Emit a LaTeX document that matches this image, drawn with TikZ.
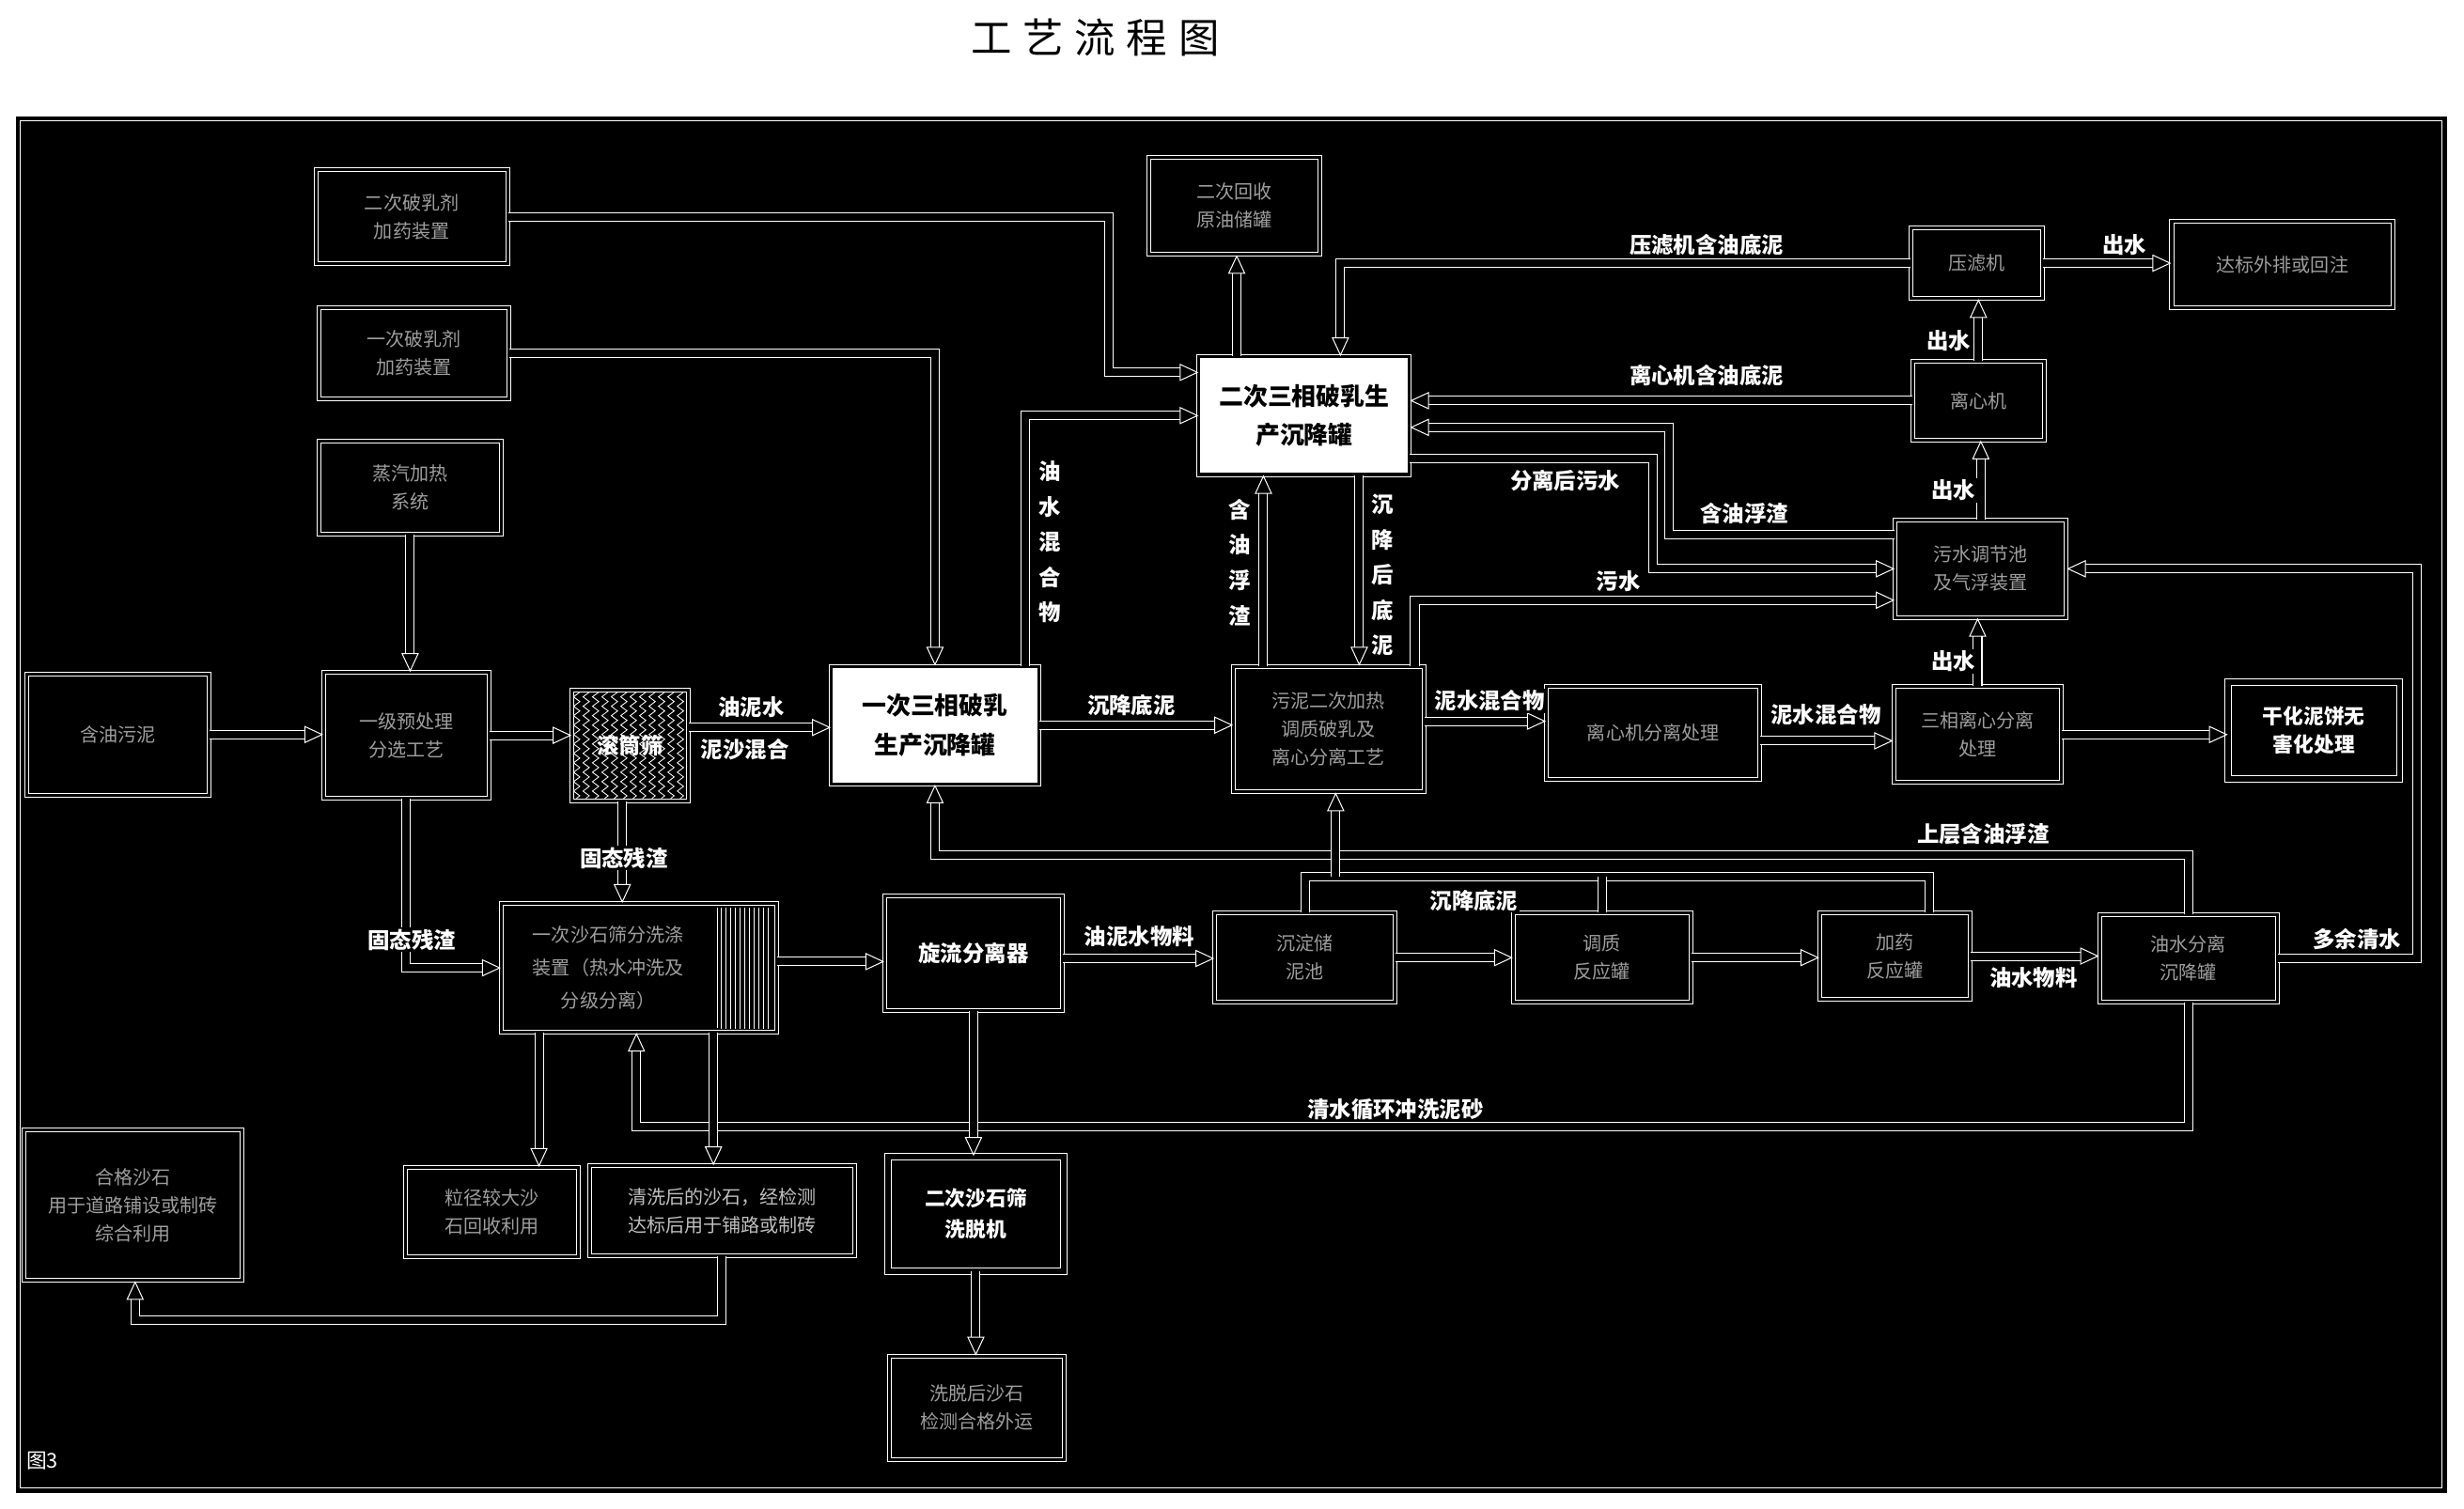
\documentclass[tikz,border=0pt]{standalone}
\usepackage{fontspec}
\newfontfamily\cjk{Noto Sans CJK SC}
\usetikzlibrary{arrows.meta,patterns.meta,decorations.pathmorphing,calc}
\begin{document}
\begin{tikzpicture}[x=1pt,y=-1pt,
  box/.style={draw=white, line width=0.6pt, double=black, double distance=1.8pt, fill=black,
    text=white!62!black, align=center, inner sep=2pt, font=\cjk\fontsize{12}{18}\selectfont},
  thickbox/.style={box, double distance=3.5pt},
  tank/.style={draw=white, line width=0.6pt, double=black, double distance=1.8pt, fill=white,
    text=black, align=center, font=\cjk\bfseries\fontsize{15.5}{25}\selectfont},
  lab/.style={text=white, fill=black, inner sep=1pt, font=\cjk\bfseries\fontsize{14}{16}\selectfont},
  vlab/.style={lab, align=center, font=\cjk\bfseries\fontsize{14}{22.5}\selectfont},
  pipe/.style={draw=white, line width=0.6pt, double=black, double distance=4.8pt},
  arr/.style={-{Triangle[open, length=12pt, width=11pt]}}
]
\useasboundingbox (0,0) rectangle (1568,960);
\fill[white] (0,0) rectangle (1568,960);
\node[font=\cjk\fontsize{26}{30}\selectfont] (title) at (697,24) {工\hspace{7pt}艺\hspace{7pt}流\hspace{7pt}程\hspace{7pt}图};
\fill[black] (10,74) rectangle (1557,950);
\draw[white, line width=0.8pt] (13,77) rectangle (1554,947);

% ---- boxes
\node[box, minimum width=116pt, minimum height=77pt] (L) at (75,467.5) {含油污泥};
\node[box, minimum width=122pt, minimum height=60pt] (A1) at (262,138) {二次破乳剂\\加药装置};
\node[box, minimum width=121pt, minimum height=58pt] (A2) at (263.5,225) {一次破乳剂\\加药装置};
\node[box, minimum width=116pt, minimum height=59pt] (A3) at (261,310.5) {蒸汽加热\\系统};
\node[box, minimum width=105pt, minimum height=80pt] (B) at (258.5,468) {一级预处理\\分选工艺};
\node[box, minimum width=74pt, minimum height=71pt, text=white,
  font=\cjk\bfseries\fontsize{14}{16}\selectfont,
  path picture={\foreach \i in {0,...,11} \draw[white, line width=0.5pt, decorate,
    decoration={zigzag, segment length=6pt, amplitude=2pt}]
    ($(path picture bounding box.north west)+(3+\i*6,0)$) --
    ($(path picture bounding box.south west)+(3+\i*6,0)$);}] (H) at (401,474.5) {滚筒筛};
\node[tank, minimum width=132pt, minimum height=75pt] (T1) at (595,461.5) {一次三相破乳\\生产沉降罐};
\node[tank, minimum width=134pt, minimum height=75pt] (T2) at (830,264.5) {二次三相破乳生\\产沉降罐};
\node[box, minimum width=109pt, minimum height=62pt] (G) at (785.5,131) {二次回收\\原油储罐};
\node[box, minimum width=121pt, minimum height=80pt] (M) at (845.5,464) {污泥二次加热\\调质破乳及\\离心分离工艺};
\node[box, minimum width=136pt, minimum height=59pt] (N) at (1052,466.5) {离心机分离处理};
\node[box, minimum width=107pt, minimum height=61pt] (P) at (1258.5,467.5) {三相离心分离\\处理};
\node[thickbox, minimum width=109pt, minimum height=62pt, text=white, font=\cjk\bfseries\fontsize{13}{18}\selectfont] (Q) at (1472.5,465) {干化泥饼无\\害化处理};
\node[box, minimum width=84pt, minimum height=45pt] (K1) at (1258,167.5) {压滤机};
\node[box, minimum width=141pt, minimum height=55pt] (K0) at (1452.5,168.5) {达标外排或回注};
\node[box, minimum width=84pt, minimum height=50pt] (K2) at (1259,255) {离心机};
\node[box, minimum width=109pt, minimum height=62pt] (K3) at (1260.5,362) {污水调节池\\及气浮装置};
\node[box, minimum width=175pt, minimum height=82pt] (C) at (406.5,616) {};
\node[box, minimum width=113pt, minimum height=73pt, text=white, font=\cjk\bfseries\fontsize{14}{16}\selectfont] (D) at (619.5,606.5) {旋流分离器};
\node[box, minimum width=115pt, minimum height=57pt] (E) at (830.5,609.5) {沉淀储\\泥池};
\node[box, minimum width=113pt, minimum height=57pt] (F) at (1019.5,609.5) {调质\\反应罐};
\node[box, minimum width=96pt, minimum height=55pt] (G2) at (1206,608.5) {加药\\反应罐};
\node[box, minimum width=113pt, minimum height=56pt] (R) at (1392.5,610) {油水分离\\沉降罐};
\node[box, minimum width=110pt, minimum height=57pt] (S1) at (313,771.5) {粒径较大沙\\石回收利用};
\node[box, minimum width=169pt, minimum height=57pt, text=white!75!black] (S2) at (459.5,770.5) {清洗后的沙石，经检测\\达标后用于铺路或制砖};
\node[box, minimum width=139pt, minimum height=96pt] (W) at (84.5,767) {合格沙石\\用于道路铺设或制砖\\综合利用};
\node[thickbox, minimum width=112pt, minimum height=73pt, text=white, font=\cjk\bfseries\fontsize{13}{20}\selectfont] (X) at (621,772.5) {二次沙石筛\\洗脱机};
\node[box, minimum width=111pt, minimum height=66pt] (Y) at (621.5,896) {洗脱后沙石\\检测合格外运};

% hatched part of C and its text
\fill[pattern={Lines[angle=90,distance=3pt,line width=0.6pt]}, pattern color=white]
  ([xshift=-38pt,yshift=-3pt]C.north east) rectangle ([xshift=-3pt,yshift=3pt]C.south east);
\draw[white, line width=0.6pt] ([xshift=-38pt,yshift=-3pt]C.north east) -- ([xshift=-38pt,yshift=3pt]C.south east);
\node[text=white!62!black, align=center, font=\cjk\fontsize{12}{21}\selectfont] (Ctx) at (387,616) {一次沙石筛分洗涤\\装置（热水冲洗及\\分级分离）};

% ---- named bend points
\coordinate (rk) at (1538,362);
\coordinate (rt) at (595,544);
\coordinate (cb) at (850,558);
\coordinate (rc) at (405,717);
\coordinate (sw) at (86,840);

% ---- connectors
\draw[pipe,arr] (L.east) -- (L.east -| B.west);
\draw[pipe,arr] (A3.south) -- (A3.south |- B.north);
\draw[pipe,arr] (B.east) -- (B.east -| H.west);
\draw[pipe,arr] ([yshift=11.5pt]H.east) -- ([yshift=11.5pt]H.east -| T1.west);
\draw[pipe,arr] (A1.east) -| ([xshift=-57pt,yshift=27.5pt]T2.west) -- ([yshift=27.5pt]T2.west);
\draw[pipe,arr] (A2.east) -| (T1.north);
\draw[pipe,arr] ([xshift=-9pt]T1.north east) |- (T2.west);
\draw[pipe,arr] (T1.east) -- (T1.east -| M.west);
\draw[pipe,arr] ([xshift=-43pt]T2.north) -- ([xshift=-43pt]T2.north |- G.south);
\draw[pipe,arr] (K1.west) -| ([xshift=23pt]T2.north);
\draw[pipe,arr] (K1.east) -- (K1.east -| K0.west);
\draw[pipe,arr] (K2.north) -- (K2.north |- K1.south);
\draw[pipe,arr] (K2.west) -- (K2.west -| T2.east);
\draw[pipe,arr] ([yshift=22pt]K3.west) -| ([xshift=165pt,yshift=-7.5pt]T2.east) -- ([yshift=-7.5pt]T2.east);
\draw[pipe,arr] ([yshift=-27.5pt]T2.east) -| ([xshift=-154pt]K3.west) -- (K3.west);
\draw[pipe,arr] ([xshift=-6pt]M.north east) |- ([yshift=-20pt]K3.west);
\draw[pipe,arr] ([xshift=35pt]T2.south) -- ([xshift=35pt]T2.south |- M.north);
\draw[pipe,arr] ([xshift=-26pt]T2.south |- M.north) -- ([xshift=-26pt]T2.south);
\draw[pipe,arr] ([yshift=5pt]M.east) -- ([yshift=5pt]M.east -| N.west);
\draw[pipe,arr] ([yshift=-5pt]N.east) -- ([yshift=-5pt]N.east -| P.west);
\draw[pipe,arr] (P.east) -- (P.east -| Q.west);
\draw[pipe,arr] (P.north) -- (P.north |- K3.south);
\draw[pipe,arr] (K3.north) -- (K3.north |- K2.south);
\draw[pipe,arr] (R.east) -| (rk) -- (K3.east);
\draw[pipe,arr] (R.north) |- (rt) -- (T1.south);
\draw[pipe] (E.north) |- ([xshift=22pt]G2.north |- cb) -- ([xshift=22pt]G2.north);
\draw[pipe] (F.north) -- (F.north |- cb);
\draw[pipe,arr] (cb) -- (cb |- M.south);
\draw[pipe,arr] (B.south) |- (C.west);
\draw[pipe,arr] ([xshift=-5pt]H.south) -- ([xshift=-5pt]H.south |- C.north);
\draw[pipe,arr] ([yshift=4pt]C.east) -- ([yshift=4pt]C.east -| D.west);
\draw[pipe,arr] ([yshift=-3.5pt]D.east) -- ([yshift=-3.5pt]D.east -| E.west);
\draw[pipe,arr] (E.east) -- (E.east -| F.west);
\draw[pipe,arr] (F.east) -- (F.east -| G2.west);
\draw[pipe,arr] (G2.east) -- (G2.east -| R.west);
\draw[pipe,arr] (R.south) |- (rc) -- (C.south -| rc);
\draw[pipe,arr] ([xshift=-63.5pt]C.south) -- ([xshift=-63.5pt]C.south |- S1.north);
\draw[pipe,arr] ([xshift=47.5pt]C.south) -- ([xshift=47.5pt]C.south |- S2.north);
\draw[pipe,arr] (S2.south) |- (sw) -- (W.south -| sw);
\draw[pipe,arr] (D.south) -- (D.south |- X.north);
\draw[pipe,arr] (X.south) -- (X.south |- Y.north);

% ---- labels
\node[lab] (l1) at (478,450) {油泥水};
\node[lab] (l2) at (474,477) {泥沙混合};
\node[vlab] (l3) at (668,345) {油\\水\\混\\合\\物};
\node[lab] (l4) at (720,449) {沉降底泥};
\node[lab] (l5) at (1086,156) {压滤机含油底泥};
\node[lab] (l6) at (1352,156) {出水};
\node[lab] (l7) at (1240,217) {出水};
\node[lab] (l8) at (1086,239) {离心机含油底泥};
\node[lab] (l9) at (1110,327) {含油浮渣};
\node[lab] (l10) at (996,306) {分离后污水};
\node[lab] (l11) at (1030,370) {污水};
\node[lab] (l12) at (1243,312) {出水};
\node[lab] (l13) at (1243,421) {出水};
\node[vlab] (l14) at (789,358) {含\\油\\浮\\渣};
\node[vlab] (l15) at (880,366) {沉\\降\\后\\底\\泥};
\node[lab] (l16) at (948,446) {泥水混合物};
\node[lab] (l17) at (1162,455) {泥水混合物};
\node[lab] (l18) at (1262,531) {上层含油浮渣};
\node[lab] (l19) at (1500,598) {多余清水};
\node[lab] (l20) at (938,573) {沉降底泥};
\node[lab] (l21) at (725,596) {油泥水物料};
\node[lab] (l22) at (1294,622) {油水物料};
\node[lab] (l23) at (262,598) {固态残渣};
\node[lab] (l24) at (397,546) {固态残渣};
\node[lab] (l25) at (888,706) {清水循环冲洗泥砂};
\node[lab, font=\cjk\fontsize{13}{15}\selectfont] (l26) at (27,930) {图3};
\end{tikzpicture}
\end{document}
